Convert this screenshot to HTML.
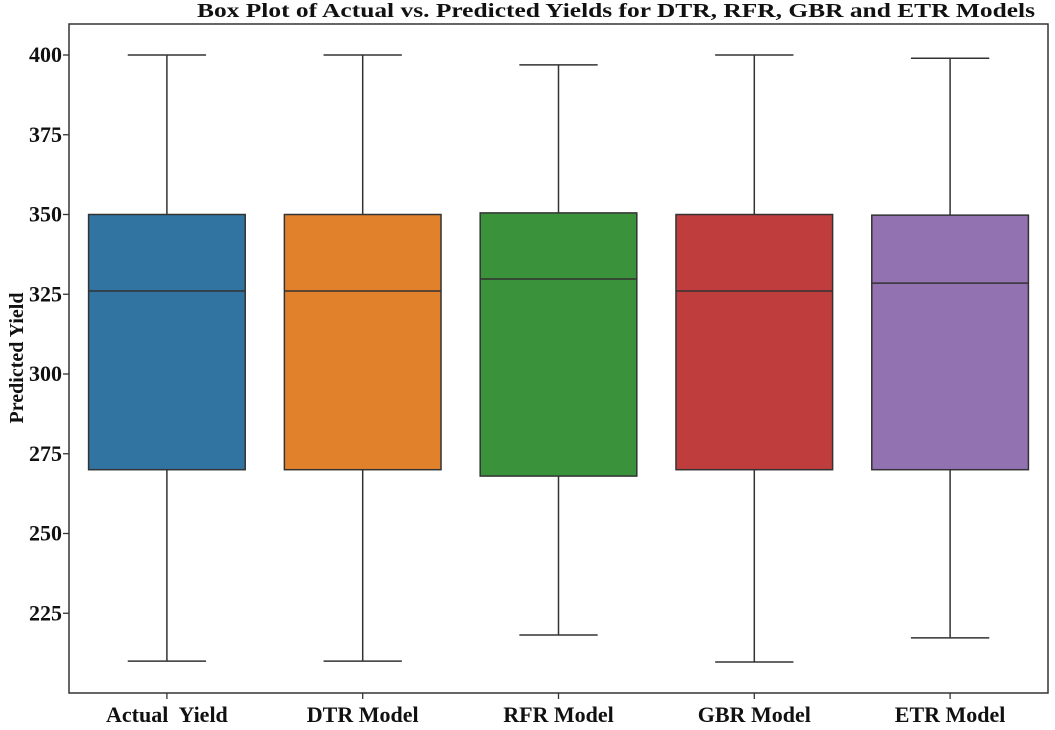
<!DOCTYPE html>
<html><head><meta charset="utf-8"><style>
body{margin:0;background:#fff;}
svg text{font-family:"Liberation Serif",serif;font-weight:bold;fill:#111;white-space:pre;}
</style></head><body>
<svg id="chart" width="1055" height="725" xmlns="http://www.w3.org/2000/svg">
<text x="616" y="17" text-anchor="middle" font-size="20" textLength="838" lengthAdjust="spacingAndGlyphs">Box Plot of Actual vs. Predicted Yields for DTR, RFR, GBR and ETR Models</text>
<text transform="translate(23,358) rotate(-90)" text-anchor="middle" font-size="20">Predicted Yield</text>
<g id="plot"></g>
</svg>
<script>
const categories=["Actual  Yield","DTR Model","RFR Model","GBR Model","ETR Model"];
const mins=[210,210,218.2,209.7,217.3];
const q1s=[270,270,268,270,270];
const medians=[326,326,329.8,326,328.5];
const q3s=[350,350,350.5,350,349.8];
const maxs=[400,400,396.9,400,399];
const colors=["#3274a1","#e1812c","#3a923a","#c03d3e","#9372b2"];
const yTicks=[225,250,275,300,325,350,375,400];

const L=69,R=1048,T=24,B=693;
const y=v=>55+(400-v)*3.19;
const band=(R-L)/categories.length;
const xc=i=>L+band*(i+0.5);
const ns="http://www.w3.org/2000/svg";
const g=document.getElementById('plot');
function mk(tag,attrs){const e=document.createElementNS(ns,tag);for(const k in attrs)e.setAttribute(k,attrs[k]);g.appendChild(e);return e;}

const frame=mk('rect',{x:L,y:T,width:R-L,height:B-T,fill:'none',stroke:'#333','stroke-width':1.5});



yTicks.forEach(v=>{
  const t=mk('line',{x1:L-6,x2:L,y1:y(v),y2:y(v),stroke:'#333','stroke-width':1.3});
  
  
  const lb=mk('text',{x:L-7,y:y(v)+7,'text-anchor':'end','font-size':22});
  lb.textContent=v;
  
  
});

categories.forEach((c,i)=>{
  const cx=xc(i),w=band*0.8,cw=band*0.4;
  const wl=mk('line',{x1:cx,x2:cx,y1:y(maxs[i]),y2:y(mins[i]),stroke:'#333','stroke-width':1.5});
  
  
  [maxs[i],mins[i]].forEach(v=>{
    const cap=mk('line',{x1:cx-cw/2,x2:cx+cw/2,y1:y(v),y2:y(v),stroke:'#333','stroke-width':1.5});
    
    
  });
  const box=mk('rect',{x:cx-w/2,y:y(q3s[i]),width:w,height:y(q1s[i])-y(q3s[i]),fill:colors[i],stroke:'#333','stroke-width':1.5});
  
  
  const md=mk('line',{x1:cx-w/2,x2:cx+w/2,y1:y(medians[i]),y2:y(medians[i]),stroke:'#333','stroke-width':1.5});
  
  
  const t=mk('line',{x1:cx,x2:cx,y1:B,y2:B+6,stroke:'#333','stroke-width':1.3});
  
  
  const lb=mk('text',{x:cx,y:B+29,'text-anchor':'middle','font-size':22});
  lb.textContent=c;
  
  
});
</script>
</body></html>
